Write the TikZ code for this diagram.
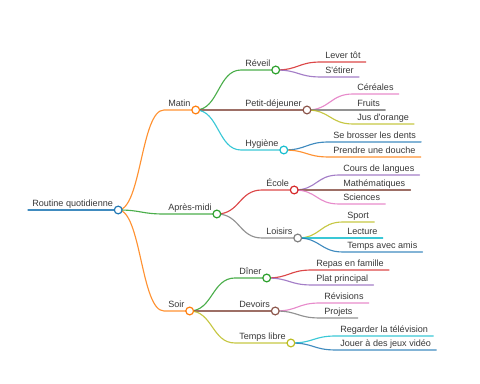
\documentclass[tikz,border=0pt]{standalone}
\usepackage{fontspec}
\newfontfamily\mmfont{Liberation Sans}
\definecolor{mmblue}{HTML}{1F77B4}
\definecolor{mmorange}{HTML}{FF7F0E}
\definecolor{mmgreen}{HTML}{2CA02C}
\definecolor{mmred}{HTML}{D62728}
\definecolor{mmpurple}{HTML}{9467BD}
\definecolor{mmbrown}{HTML}{8C564B}
\definecolor{mmpink}{HTML}{E377C2}
\definecolor{mmgray}{HTML}{7F7F7F}
\definecolor{mmolive}{HTML}{BCBD22}
\definecolor{mmcyan}{HTML}{17BECF}

\begin{document}
\begin{tikzpicture}[x=0.75pt, y=-0.75pt,
    lbl/.style={font=\mmfont\fontsize{6.8}{8}\selectfont, text=black!78, inner sep=0pt, anchor=base west},
    link/.style={line width=0.85pt, line cap=round, draw opacity=0.85},
    dot/.style={circle, draw, fill=white, line width=0.9pt, minimum size=5.8pt, inner sep=0pt}
  ]
    \useasboundingbox (0,0) rectangle (480,384);

    % labels: name/text/x/line y
    \foreach \n/\t/\x/\y in {
        root/Routine quotidienne/32/210,
        matin/Matin/168/110, apres/Après-midi/168/214, soir/Soir/168/311,
        reveil/Réveil/245/70, petit/Petit-déjeuner/245/110, hyg/Hygiène/245/150,
        ecole/École/266/190, loisirs/Loisirs/266/238,
        diner/Dîner/239/278, devoirs/Devoirs/239/311, libre/Temps libre/239/343,
        lever/Lever tôt/325/62, etirer/S'étirer/325/77,
        cereales/Céréales/357/94, fruits/Fruits/357/110, jus/Jus d'orange/357/124,
        dents/Se brosser les dents/333/142, douche/Prendre une douche/333/157,
        langues/Cours de langues/343/175, maths/Mathématiques/343/190, sciences/Sciences/343/204,
        sport/Sport/347/222, lecture/Lecture/347/238, amis/Temps avec amis/347/252,
        repas/Repas en famille/316/270, plat/Plat principal/316/285,
        revisions/Révisions/324/303, projets/Projets/324/318,
        tele/Regarder la télévision/340/336, jeux/Jouer à des jeux vidéo/340/350} {
      \node[lbl] (\n) at (\x,\y-3.6) {\t};
      \coordinate (\n-s) at ([shift={(-4,3.6)}]\n.base west);
      \coordinate (\n-e) at ([shift={(5,3.6)}]\n.base east);
    }

    \draw[link, draw=mmblue] (root-s) -- (root-e);

    % links: child/parent/colour
    \foreach \n/\p/\c in {
        matin/root/mmorange, apres/root/mmgreen, soir/root/mmorange,
        reveil/matin/mmgreen, petit/matin/mmbrown, hyg/matin/mmcyan,
        ecole/apres/mmred, loisirs/apres/mmgray,
        diner/soir/mmgreen, devoirs/soir/mmbrown, libre/soir/mmolive,
        lever/reveil/mmred, etirer/reveil/mmpurple,
        cereales/petit/mmpink, fruits/petit/mmgray, jus/petit/mmolive,
        dents/hyg/mmblue, douche/hyg/mmorange,
        langues/ecole/mmpurple, maths/ecole/mmbrown, sciences/ecole/mmpink,
        sport/loisirs/mmolive, lecture/loisirs/mmcyan, amis/loisirs/mmblue,
        repas/diner/mmred, plat/diner/mmpurple,
        revisions/devoirs/mmpink, projets/devoirs/mmgray,
        tele/libre/mmcyan, jeux/libre/mmblue} {
      \draw[link, draw=\c] (\p-e) .. controls +(23,0) and +(-23,0) .. (\n-s) -- (\n-e);
    }

    % circles on branching nodes
    \foreach \n/\c in {root/mmblue, matin/mmorange, apres/mmgreen, soir/mmorange,
        reveil/mmgreen, petit/mmbrown, hyg/mmcyan, ecole/mmred, loisirs/mmgray,
        diner/mmgreen, devoirs/mmbrown, libre/mmolive} {
      \node[dot, draw=\c] (\n-dot) at (\n-e) {};
    }
\end{tikzpicture}
\end{document}
